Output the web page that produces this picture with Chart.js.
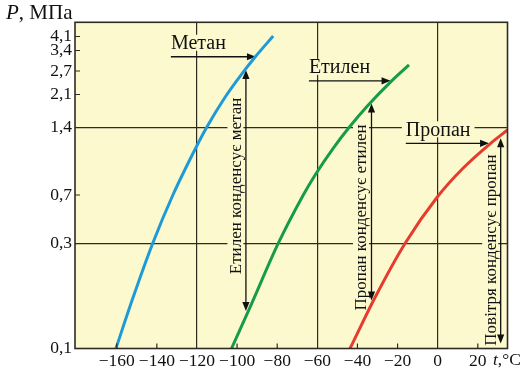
<!DOCTYPE html>
<html>
<head>
<meta charset="utf-8">
<script src="https://cdn.jsdelivr.net/npm/chart.js@4/dist/chart.umd.min.js"></script>
<style>
  html,body{margin:0;padding:0;background:#fff;}
  #wrap{width:522px;height:372px;}
</style>
</head>
<body>
<div id="wrap"><canvas id="c" width="522" height="372"></canvas></div>
<script>
// temperature t, °C and pressure P, MPa
const tMethane = [-160.4, -152.0, -142.1, -132.0, -120.3, -115.2, -106.4, -96.8, -90.9, -82.0];
const pMethane = [0.1, 0.169, 0.3, 0.7, 1.149, 1.4, 2.0, 2.68, 3.17, 4.12];
const tEthylene = [-102.8, -93.4, -79.5, -67.0, -61.1, -52.2, -44.2, -34.6, -23.3, -14.3];
const pEthylene = [0.1, 0.155, 0.3, 0.7, 0.86, 1.128, 1.4, 1.845, 2.41, 2.89];
const tPropane = [-43.7, -31.3, -16.3, 0, 12.5, 26.4, 34.8];
const pPropane = [0.1, 0.17, 0.3, 0.682, 0.919, 1.19, 1.364];

const xTickVals = [-160, -140, -120, -100, -80, -60, -40, -20, 0, 20];
const yTickVals = [0.1, 0.3, 0.7, 1.4, 2.1, 2.7, 3.4, 4.1];
const xGridVals = [-120, -60, 0];
const yGridVals = [0.3, 1.4];

const gasArrows = [
  {label:'Метан', t0:-133, t1:-90.6, p:3.17},
  {label:'Етилен', t0:-64.2, t1:-23.5, p:2.43},
  {label:'Пропан', t0:-15.9, t1:25.6, p:1.19},
];
const condArrows = [
  {label:'Етилен конденсує метан', t:-95.6, p0:0.148, p1:2.73, pText:0.768},
  {label:'Пропан конденсує етилен', t:-33.0, p0:0.165, p1:1.88, pText:0.473},
  {label:'Повітря конденсує пропан', t:31.4, p0:0.1055, p1:1.253, pText:0.28},
];

// the pressure axis of the figure is uneven: anchor values and where they sit (0 bottom .. 1 top)
const pAnchors = [0.1, 0.3, 0.7, 1.4, 2.1, 2.7, 3.4, 4.1, 4.8];
const pAnchorPos = [0, 0.322, 0.4706, 0.6775, 0.7787, 0.8507, 0.9135, 0.9565, 1];

class PressureScale extends Chart.LinearScale {
  decimalOf(v){
    let i=0; while(i<pAnchors.length-2 && v>pAnchors[i+1]) i++;
    return pAnchorPos[i]+(pAnchorPos[i+1]-pAnchorPos[i])*Math.log(v/pAnchors[i])/Math.log(pAnchors[i+1]/pAnchors[i]);
  }
  getPixelForValue(v){ return this.getPixelForDecimal(this.decimalOf(v)); }
  getValueForPixel(px){
    const d=this.getDecimalForPixel(px);
    let i=0; while(i<pAnchorPos.length-2 && d>pAnchorPos[i+1]) i++;
    return pAnchors[i]*Math.pow(pAnchors[i+1]/pAnchors[i],(d-pAnchorPos[i])/(pAnchorPos[i+1]-pAnchorPos[i]));
  }
}
PressureScale.id='pressure';
PressureScale.defaults=Chart.LinearScale.defaults;
Chart.register(PressureScale);

const SERIF='"Liberation Serif", "Times New Roman", serif';
Chart.defaults.font.family=SERIF;
const BG='#fdf9cf', INK='#2e2b22';
const pts=(ts,ps)=>ts.map((t,i)=>({x:t,y:ps[i]}));
const fmtNum=v=>String(v).replace('.',',').replace('-','\u2212');

function head(ctx,x,y,dx,dy){
  const L=9,W=3.6;
  ctx.beginPath();
  ctx.moveTo(x,y);
  ctx.lineTo(x-dx*L-dy*W, y-dy*L+dx*W);
  ctx.lineTo(x-dx*L+dy*W, y-dy*L-dx*W);
  ctx.closePath(); ctx.fill();
}
function boxedText(ctx,txt,x,y,align){
  const w=ctx.measureText(txt).width;
  const left=align==='left'?x:x-w/2;
  ctx.fillStyle=BG; ctx.fillRect(left-4,y-8,w+8,16);
  ctx.fillStyle='#111'; ctx.textAlign=align; ctx.textBaseline='middle';
  ctx.fillText(txt,x,y+1);
}

const decor={
  id:'decor',
  beforeDraw(chart){
    const {ctx,chartArea:a}=chart;
    ctx.save();
    ctx.fillStyle='#fff'; ctx.fillRect(0,0,chart.width,chart.height);
    ctx.fillStyle=BG; ctx.fillRect(a.left,a.top,a.right-a.left,a.bottom-a.top);
    ctx.restore();
  },
  // arrows and labels sit over the grid but under the curves
  beforeDatasetsDraw(chart){
    const {ctx,scales:{x,y}}=chart;
    ctx.save();
    ctx.font='20px '+SERIF;
    ctx.strokeStyle='#111'; ctx.fillStyle='#111'; ctx.lineWidth=1.3;
    gasArrows.forEach(g=>{
      const x0=x.getPixelForValue(g.t0), x1=x.getPixelForValue(g.t1), py=y.getPixelForValue(g.p);
      boxedText(ctx,g.label,x0,py-14,'left');
      ctx.fillStyle='#111';
      ctx.beginPath(); ctx.moveTo(x0,py); ctx.lineTo(x1-6,py); ctx.stroke();
      head(ctx,x1,py,1,0);
    });
    ctx.font='17px '+SERIF;
    condArrows.forEach(c=>{
      const px=x.getPixelForValue(c.t), yb=y.getPixelForValue(c.p0), yt=y.getPixelForValue(c.p1);
      ctx.save();
      ctx.translate(px-10.5,y.getPixelForValue(c.pText));
      ctx.rotate(-Math.PI/2);
      boxedText(ctx,c.label,0,0,'center');
      ctx.restore();
      ctx.fillStyle='#111';
      ctx.beginPath(); ctx.moveTo(px,yb-6); ctx.lineTo(px,yt+6); ctx.stroke();
      head(ctx,px,yt,0,-1); head(ctx,px,yb,0,1);
    });
    ctx.restore();
  },
  afterDatasetsDraw(chart){
    const {ctx,chartArea:a,scales:{x,y}}=chart;
    ctx.save();
    // inward tick marks
    ctx.strokeStyle=INK; ctx.lineWidth=1.2;
    ctx.beginPath();
    xTickVals.filter(v=>!xGridVals.includes(v)).forEach(v=>{const px=x.getPixelForValue(v); ctx.moveTo(px,a.bottom); ctx.lineTo(px,a.bottom-5);});
    yTickVals.filter(v=>!yGridVals.includes(v)&&v!==0.1).forEach(v=>{const py=y.getPixelForValue(v); ctx.moveTo(a.left,py); ctx.lineTo(a.left+5,py);});
    ctx.stroke();
    // frame
    ctx.lineWidth=1.6; ctx.strokeRect(a.left,a.top,a.right-a.left,a.bottom-a.top);

    // axis titles
    ctx.fillStyle='#111'; ctx.textBaseline='alphabetic'; ctx.textAlign='left';
    ctx.font='italic 21px '+SERIF; ctx.fillText('P',6,19);
    let w=ctx.measureText('P').width;
    ctx.font='21px '+SERIF; ctx.fillText(', МПа',6+w,19);
    ctx.font='italic 17.5px '+SERIF; ctx.fillText('t',493,365);
    w=ctx.measureText('t').width;
    ctx.font='17.5px '+SERIF; ctx.fillText(',°C',493+w,365);
    ctx.restore();
  }
};

const gridColor=list=>c=>list.includes(c.tick&&c.tick.value)?INK:'rgba(0,0,0,0)';

new Chart(document.getElementById('c').getContext('2d'),{
  type:'line',
  data:{datasets:[
    {label:'Метан',data:pts(tMethane,pMethane),borderColor:'#1e9ad6'},
    {label:'Етилен',data:pts(tEthylene,pEthylene),borderColor:'#169c48'},
    {label:'Пропан',data:pts(tPropane,pPropane),borderColor:'#e53c2d'},
  ]},
  options:{
    responsive:false, animation:false,
    layout:{padding:{top:22.3,right:14.5,left:0,bottom:0}},
    elements:{line:{borderWidth:3,cubicInterpolationMode:'monotone',fill:false},point:{radius:0}},
    plugins:{legend:{display:false},tooltip:{enabled:false}},
    scales:{
      x:{type:'linear',min:-180.8,max:34.8,
        afterBuildTicks:s=>{s.ticks=xTickVals.map(v=>({value:v}));},
        afterFit:s=>{s.height=23.5;},
        grid:{color:gridColor(xGridVals),lineWidth:1.2,drawTicks:false},
        border:{display:false},
        ticks:{autoSkip:false,maxRotation:0,padding:2,color:'#111',font:{family:SERIF,size:17.5},
          callback:v=>fmtNum(v)}},
      y:{type:'pressure',min:0.1,max:4.8,
        afterBuildTicks:s=>{s.ticks=yTickVals.map(v=>({value:v}));},
        afterFit:s=>{s.width=75;},
        grid:{color:gridColor(yGridVals),lineWidth:1.2,drawTicks:false},
        border:{display:false},
        ticks:{autoSkip:false,padding:3,color:'#111',font:{family:SERIF,size:17.5},
          callback:v=>fmtNum(v)}}
    }
  },
  plugins:[decor]
});
</script>
</body>
</html>
